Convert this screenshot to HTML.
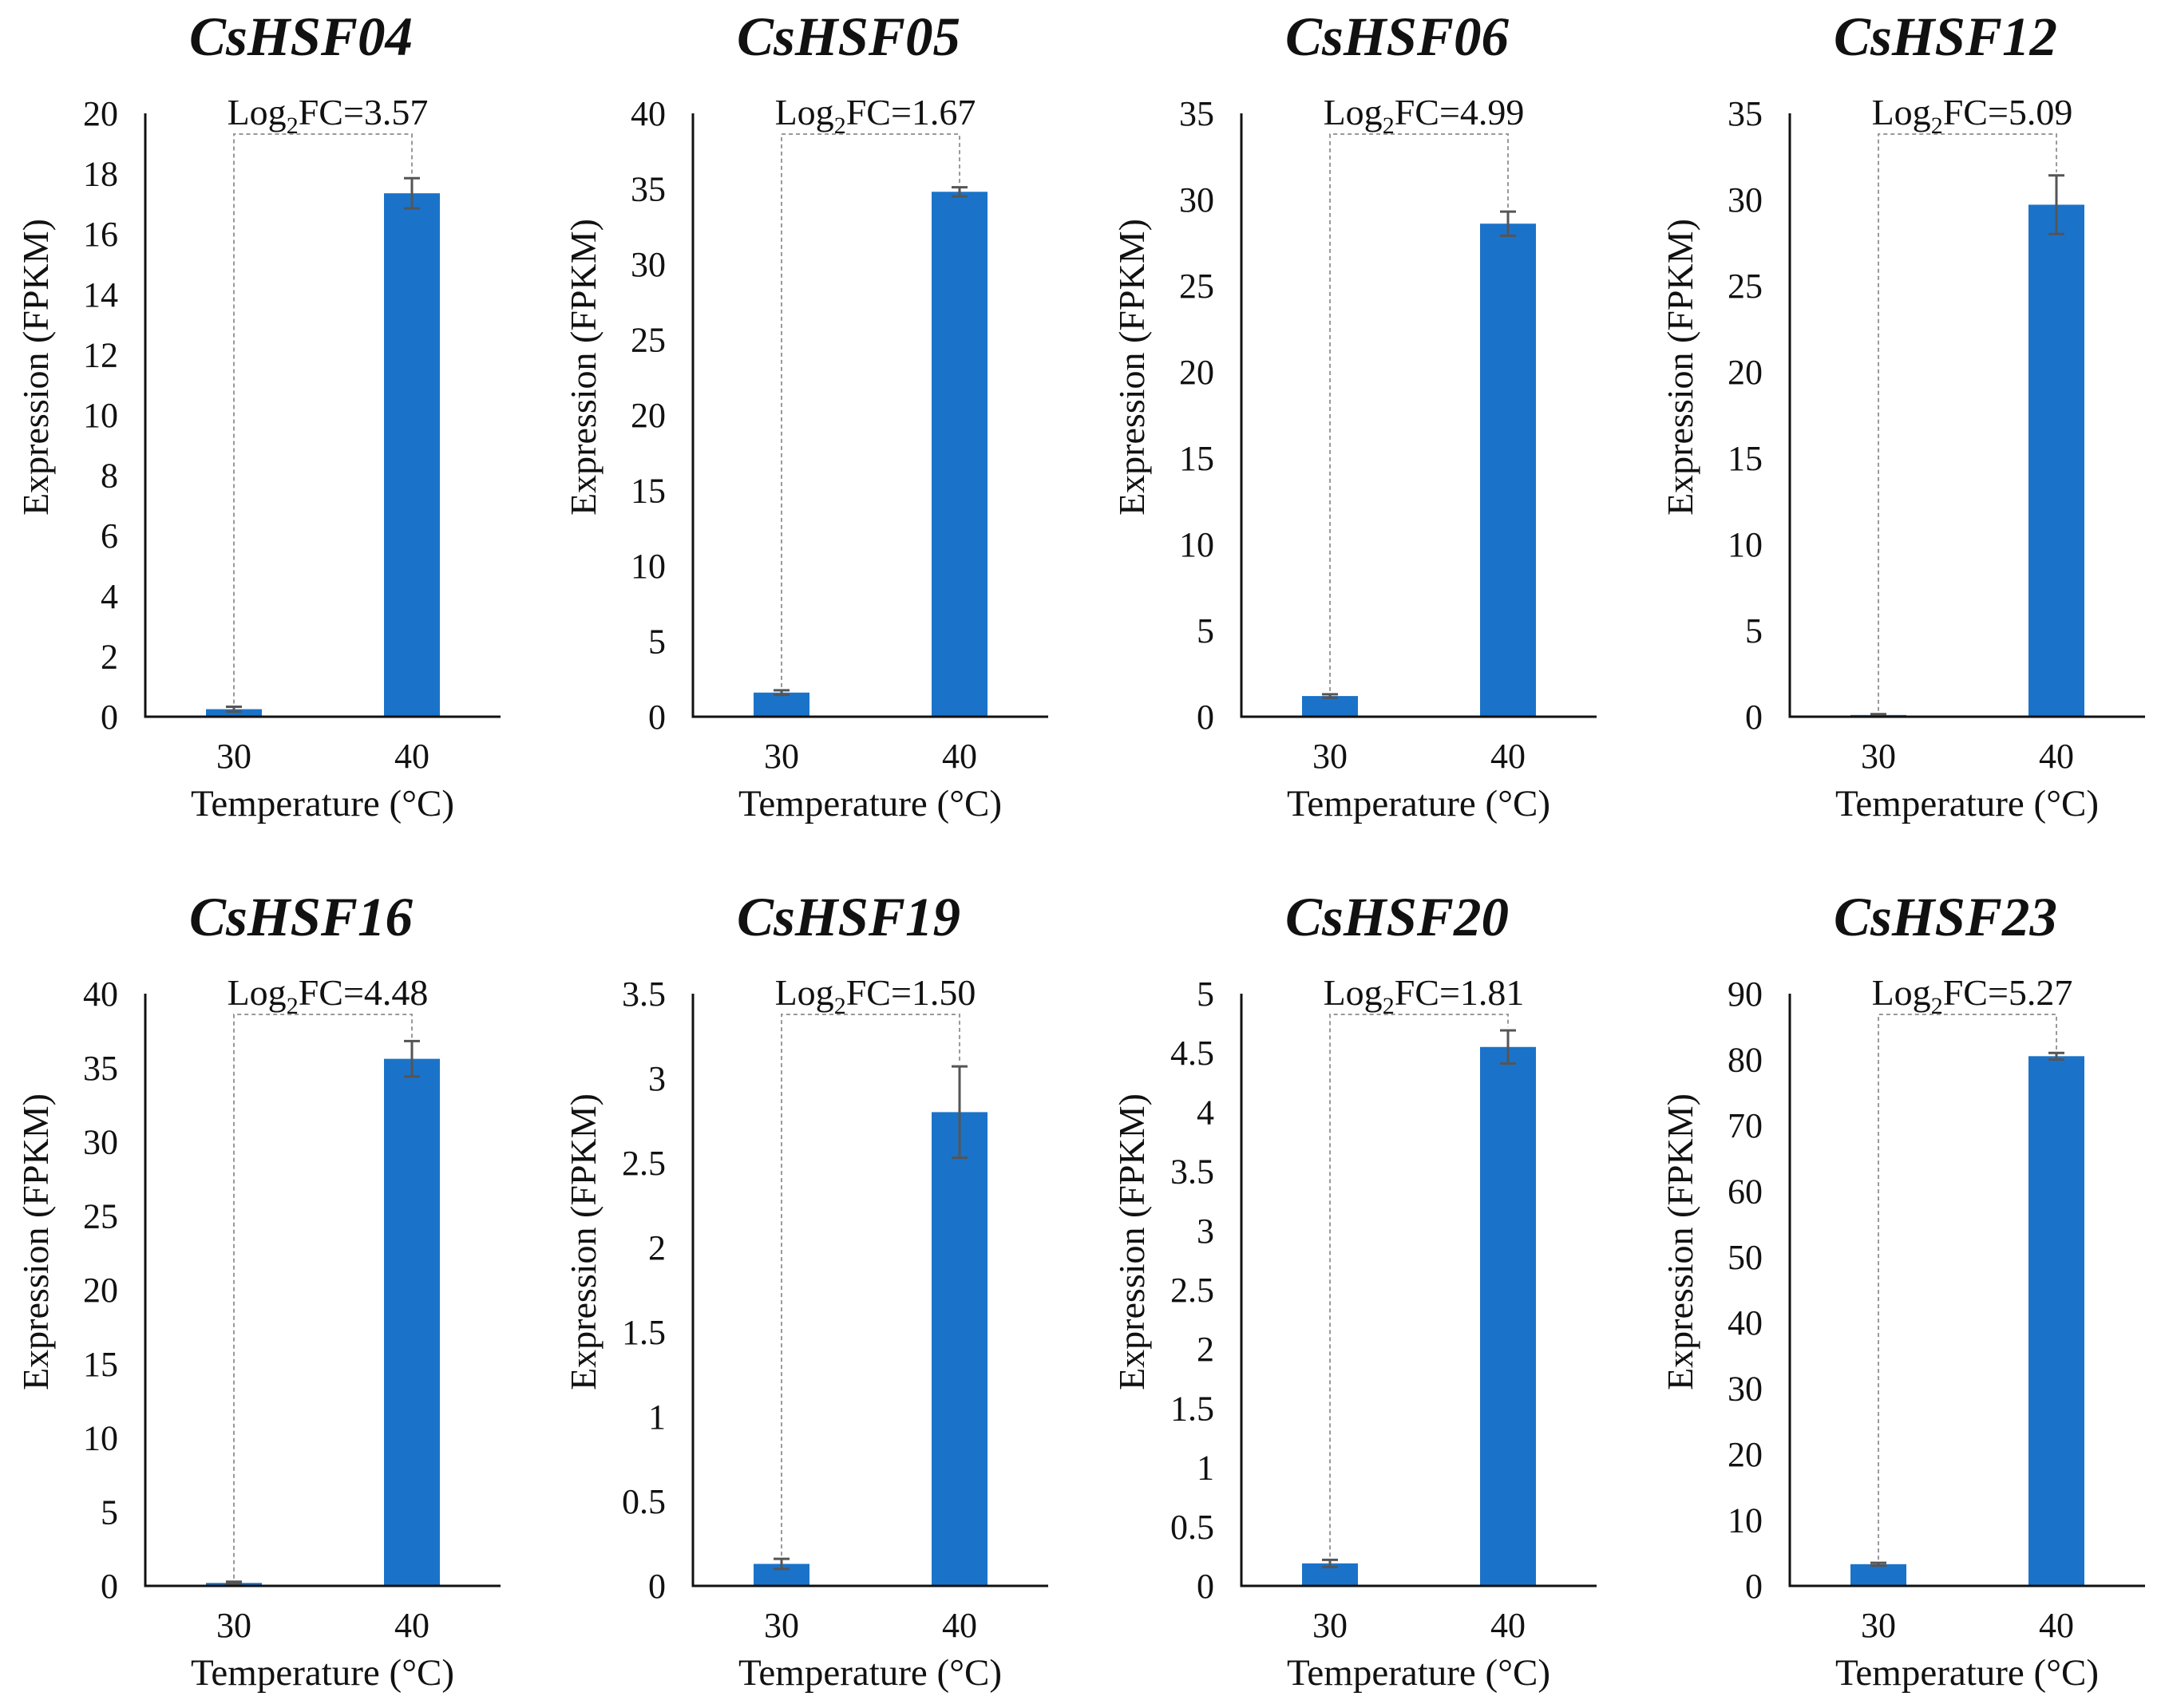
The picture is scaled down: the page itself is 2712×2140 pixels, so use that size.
<!DOCTYPE html>
<html><head><meta charset="utf-8"><style>
body{margin:0;background:#fff}
svg{display:block}
text{font-family:"Liberation Serif",serif;fill:#111}
</style></head><body>
<svg id="c" width="2712" height="2140" viewBox="0 0 2712 2140" xmlns="http://www.w3.org/2000/svg"></svg>
<script>
const genes=["CsHSF04","CsHSF05","CsHSF06","CsHSF12","CsHSF16","CsHSF19","CsHSF20","CsHSF23"];
const categories=["30","40"];
const val30=[0.25,1.6,1.2,0.1,0.2,0.13,0.19,3.3];
const val40=[17.35,34.8,28.6,29.7,35.6,2.8,4.55,80.5];
const err30=[0.08,0.15,0.1,0.05,0.08,0.03,0.03,0.2];
const err40=[0.5,0.3,0.7,1.7,1.2,0.27,0.14,0.5];
const yMax=[20,40,35,35,40,3.5,5,90];
const yStep=[2,5,5,5,5,0.5,0.5,10];
const fcLabels=["3.57","1.67","4.99","5.09","4.48","1.50","1.81","5.27"];
const svg=document.getElementById('c');
const NS="http://www.w3.org/2000/svg";
function mk(t,a,p){const e=document.createElementNS(NS,t);for(const k in a)e.setAttribute(k,a[k]);(p||svg).appendChild(e);return e;}
const colX=[182,868,1555,2242];
const rowTop=[142,1245],rowBot=[898,1987];
const axW=445, barW=70, cOff=[111,334];
genes.forEach((g,i)=>{
  const col=i%4,row=Math.floor(i/4);
  const x0=colX[col],top=rowTop[row],bot=rowBot[row];
  const grp=mk('g',{});
  
  
  const y=v=>bot-(v/yMax[i])*(bot-top);
  const xc=k=>x0+cOff[k];
  const t=mk('text',{x:x0+195,y:top-73,'text-anchor':'middle','font-size':69,'font-weight':'bold','font-style':'italic'},grp);
  t.textContent=g;
  const n=Math.round(yMax[i]/yStep[i]);
  for(let k=0;k<=n;k++){
    const v=k*yStep[i];
    const tl=mk('text',{x:x0-34,y:y(v)+15,'text-anchor':'end','font-size':44},grp);
    tl.textContent=String(Math.round(v*10)/10);
    
  }
  const yl=mk('text',{x:0,y:0,'text-anchor':'middle','font-size':46,transform:`translate(${x0-122},${(top+bot)/2-60}) rotate(-90)`},grp);
  yl.textContent="Expression (FPKM)";
  const vals=[val30[i],val40[i]],errs=[err30[i],err40[i]];
  vals.forEach((v,k)=>{
    const b=mk('rect',{x:xc(k)-barW/2,y:y(v),width:barW,height:bot-y(v),fill:'#1a73c9'},grp);
    
    const e1=y(v+errs[k]),e2=y(Math.max(0,v-errs[k]));
    const eb=mk('path',{d:`M${xc(k)} ${e1}V${e2}M${xc(k)-10} ${e1}H${xc(k)+10}M${xc(k)-10} ${e2}H${xc(k)+10}`,stroke:'#555','stroke-width':3,fill:'none'},grp);
    
    const xt=mk('text',{x:xc(k),y:bot+64,'text-anchor':'middle','font-size':44},grp);
    xt.textContent=categories[k];
  });
  const by=top+26;
  const br=mk('path',{d:`M${xc(0)} ${y(vals[0]+errs[0])-4}V${by}H${xc(1)}V${y(vals[1]+errs[1])-4}`,stroke:'#999','stroke-width':2,'stroke-dasharray':'5 4',fill:'none'},grp);
  
  const fc=mk('text',{x:(xc(0)+xc(1))/2+6,y:top+14,'text-anchor':'middle','font-size':46},grp);
  fc.innerHTML=`Log<tspan font-size="30" dy="11">2</tspan><tspan dy="-11">FC=${fcLabels[i]}</tspan>`;
  
  const ax=mk('path',{d:`M${x0} ${top}V${bot}H${x0+axW}`,stroke:'#111','stroke-width':3,fill:'none'},grp);
  
  const xl=mk('text',{x:x0+222,y:bot+124,'text-anchor':'middle','font-size':47},grp);
  xl.textContent="Temperature (°C)";
});
</script>
</body></html>
